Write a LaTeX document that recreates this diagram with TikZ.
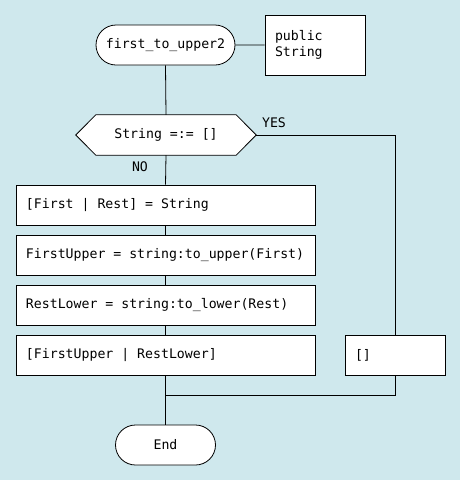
\documentclass[tikz,border=0pt]{standalone}
\usepackage{fontspec}
\setmonofont{DejaVu Sans Mono}
\usetikzlibrary{shapes.misc}
\definecolor{bgc}{HTML}{CFE8ED}
\newcommand{\ms}{\hbox to 0.602em{}}
\tikzset{
  base/.style={font=\ttfamily\fontsize{13.2}{15.5}\selectfont, inner sep=0pt},
  term/.style={base, rounded rectangle, draw, fill=white, line width=0.8pt, minimum height=40pt},
  stmt/.style={base, draw, fill=white, line width=0.8pt, minimum height=40pt, align=left, inner xsep=10pt},
  lbl/.style={base},
  conn/.style={line width=0.8pt}
}
\begin{document}
\begin{tikzpicture}[x=1pt,y=-1pt]
\fill[bgc] (0,0) rectangle (460,480);
\useasboundingbox (0,0) rectangle (460,480);
\node[term, minimum width=139pt] (start) at (165.5,45) {first\_to\_upper2};
\node[stmt, minimum height=60pt, text width=80pt] (pub) at (315,45) {public\\String};
\node[base, minimum width=180pt, minimum height=40pt] (cond) at (166,135) {};
\draw[conn, fill=white] (cond.west) -- ([xshift=20pt]cond.north west) -- ([xshift=-20pt]cond.north east) -- (cond.east) -- ([xshift=-20pt]cond.south east) -- ([xshift=20pt]cond.south west) -- cycle;
\node[base] at (cond) {String\ms=:=\ms[]};
\node[stmt, text width=279pt] (b1) at (165.5,205) {[First\ms|\ms Rest]\ms=\ms String};
\node[stmt, text width=279pt] (b2) at (165.5,255) {FirstUpper\ms=\ms string:to\_upper(First)};
\node[stmt, text width=279pt] (b3) at (165.5,305) {RestLower\ms=\ms string:to\_lower(Rest)};
\node[stmt, text width=279pt] (b4) at (165.5,355) {[FirstUpper\ms|\ms RestLower]};
\node[stmt, text width=80pt] (empty) at (395,355) {[]};
\node[term, minimum width=100pt] (end) at (165.5,445) {End};
\node[lbl] (yes) at (274,123) {YES};
\node[lbl] (no) at (140,167) {NO};
\coordinate (j) at (165.5,395);
\draw[conn] (start) -- (pub);
\draw[conn] (start.south) -- (cond.north);
\draw[conn] (cond.south) -- (b1.north);
\draw[conn] (b1) -- (b2);
\draw[conn] (b2) -- (b3);
\draw[conn] (b3) -- (b4);
\draw[conn] (b4.south) -- (end.north);
\draw[conn] (cond.east) -| (empty.north);
\draw[conn] (empty.south) |- (j);
\end{tikzpicture}
\end{document}
